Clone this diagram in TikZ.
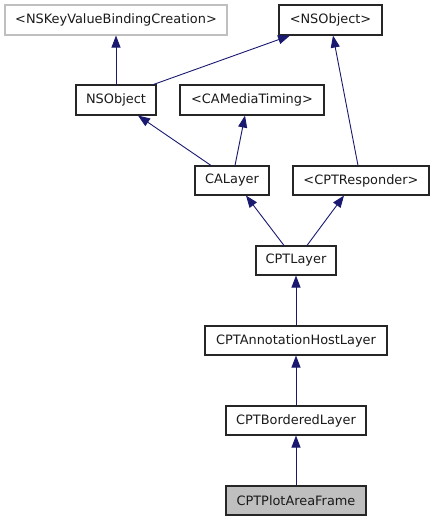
\documentclass[tikz,border=0pt]{standalone}
\usepackage{fontspec}
\setmainfont{DejaVu Sans}
\usetikzlibrary{arrows.meta}
\definecolor{edgecol}{HTML}{191970}
\definecolor{txtcol}{HTML}{1A1A1A}
\tikzset{
  box/.style={draw=black!85, line width=1.1pt, fill=white, minimum height=29pt, inner sep=0pt,
    text=txtcol, font=\fontsize{12.9pt}{14pt}\selectfont},
  ghost/.style={box, draw=black!25},
  current/.style={box, fill=black!25},
  inh/.style={draw=edgecol, line width=0.9pt, -{Triangle[width=9pt,length=12pt]}}
}
\begin{document}
\begin{tikzpicture}[x=1pt,y=-1pt]
\useasboundingbox (0,0) rectangle (435,523);
\node[ghost, minimum width=222pt, minimum height=30pt] (KVB) at (116,20) {<NSKeyValueBindingCreation>};
\node[box, minimum width=103pt, minimum height=30pt] (NSOp) at (330.5,20) {<NSObject>};
\node[box, minimum width=80pt, minimum height=30pt] (NSObject) at (116,100) {NSObject};
\node[box, minimum width=144pt, minimum height=30pt] (CAMT) at (252,100) {<CAMediaTiming>};
\node[box, minimum width=74pt] (CALayer) at (232,180.5) {CALayer};
\node[box, minimum width=136pt] (CPTR) at (361,180.5) {<CPTResponder>};
\node[box, minimum width=80pt] (CPTLayer) at (296,260.5) {CPTLayer};
\node[box, minimum width=182pt] (CPTAHL) at (296,340.5) {CPTAnnotationHostLayer};
\node[box, minimum width=140pt] (CPTBL) at (296,420.5) {CPTBorderedLayer};
\node[current, minimum width=140pt] (CPTPAF) at (296,500.5) {CPTPlotAreaFrame};

\draw[inh] (NSObject) -- (KVB);
\draw[inh] ([xshift=-3pt]NSObject.north east) -- ([xshift=-40.5pt]NSOp.south);
\draw[inh] ([xshift=-3pt]CPTR.north) -- ([xshift=2.5pt]NSOp.south);
\draw[inh] ([xshift=-21pt]CALayer.north) -- ([xshift=22pt]NSObject.south);
\draw[inh] ([xshift=3pt]CALayer.north) -- ([xshift=-7pt]CAMT.south);
\draw[inh] ([xshift=-12pt]CPTLayer.north) -- ([xshift=14pt]CALayer.south);
\draw[inh] ([xshift=11pt]CPTLayer.north) -- ([xshift=-17pt]CPTR.south);
\draw[inh] (CPTAHL) -- (CPTLayer);
\draw[inh] (CPTBL) -- (CPTAHL);
\draw[inh] (CPTPAF) -- (CPTBL);
\end{tikzpicture}
\end{document}
